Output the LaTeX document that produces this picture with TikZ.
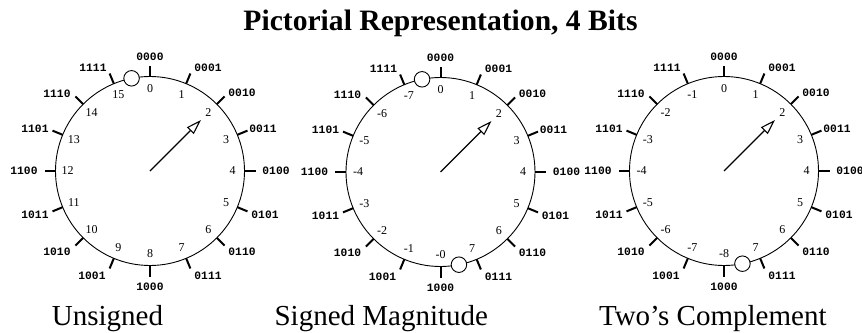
\documentclass[tikz,border=0pt]{standalone}
\usepackage{fontspec}
\setmainfont{Liberation Serif}
\newfontfamily\binfont{Liberation Mono}
\usetikzlibrary{arrows.meta}

% One dial: #1 = name prefix, #2 = centre, #3 = decimal labels (0000..1111 order),
% #4 = angles of the open "wrap-around" markers
\newcommand\clockdial[4]{%
  \begin{scope}[shift={#2}]
    \coordinate (#1-c) at (0,0);
    \draw[rim] (#1-c) circle[radius=94.5];
    % radial ticks and bit patterns
    \foreach \k/\bx/\by/\bits in {0/0/114/0000, 1/58/103/0001, 2/92/78/0010,
        3/113/42/0011, 4/126/0/0100, 5/115/-44/0101, 6/92/-81/0110,
        7/58/-105/0111, 8/0/-116/1000, 9/-58/-105/1001, 10/-93/-81/1010,
        11/-115/-44/1011, 12/-126/0/1100, 13/-115/42/1101, 14/-93/77/1110,
        15/-57/103/1111}{
      \draw[ticmark] ({90-22.5*\k}:94.5) -- ({90-22.5*\k}:105.5);
      \node[binlbl] (#1-b\k) at (\bx,\by) {\bits};
    }
    % values printed inside the rim
    \foreach \d [count=\n from 0] in {#3}{
      \node[declbl] (#1-d\n) at ({90-22.5*\n}:82.5) {\d};
    }
    % wrap-around markers
    \foreach \g [count=\m] in {#4}{
      \node[gap] (#1-g\m) at (\g:94.5) {};
    }
    % pointer
    \coordinate (#1-tip) at (45:72);
    \draw[ptr] (#1-c) -- (#1-tip);
  \end{scope}%
}

\begin{document}
\begin{tikzpicture}[x=1pt,y=1pt,
  rim/.style={line width=0.9pt},
  ticmark/.style={line width=2pt},
  binlbl/.style={font=\binfont\bfseries\fontsize{11.3}{11.3}\selectfont, inner sep=0pt},
  declbl/.style={font=\fontsize{12}{12}\selectfont, inner sep=0pt},
  gap/.style={circle, draw, fill=white, minimum size=15.5pt, inner sep=0pt, line width=0.9pt},
  ptr/.style={line width=1.1pt, -{Triangle[open,length=15pt,width=9.5pt]}},
  caption/.style={font=\fontsize{29}{34}\selectfont, anchor=base, inner sep=0pt},
  heading/.style={font=\bfseries\fontsize{29.6}{34}\selectfont, anchor=base, inner sep=0pt},
]
\useasboundingbox (0,0) rectangle (862,-332);

\node[heading] (title) at (440.5,-30) {Pictorial Representation, 4 Bits};

\clockdial{u}{(150,-171)}{0,1,2,3,4,5,6,7,8,9,10,11,12,13,14,15}{101.25}
\clockdial{s}{(440.5,-172)}{0,1,2,3,4,5,6,7,-0,-1,-2,-3,-4,-5,-6,-7}{101.25,-78.75}
\clockdial{t}{(724,-171)}{0,1,2,3,4,5,6,7,-8,-7,-6,-5,-4,-3,-2,-1}{-78.75}

\node[caption] (cap-u) at (107.5,-325.5) {Unsigned};
\node[caption] (cap-s) at (381.3,-325.5) {Signed Magnitude};
\node[caption] (cap-t) at (712.8,-325.5) {Two’s Complement};
\end{tikzpicture}
\end{document}
